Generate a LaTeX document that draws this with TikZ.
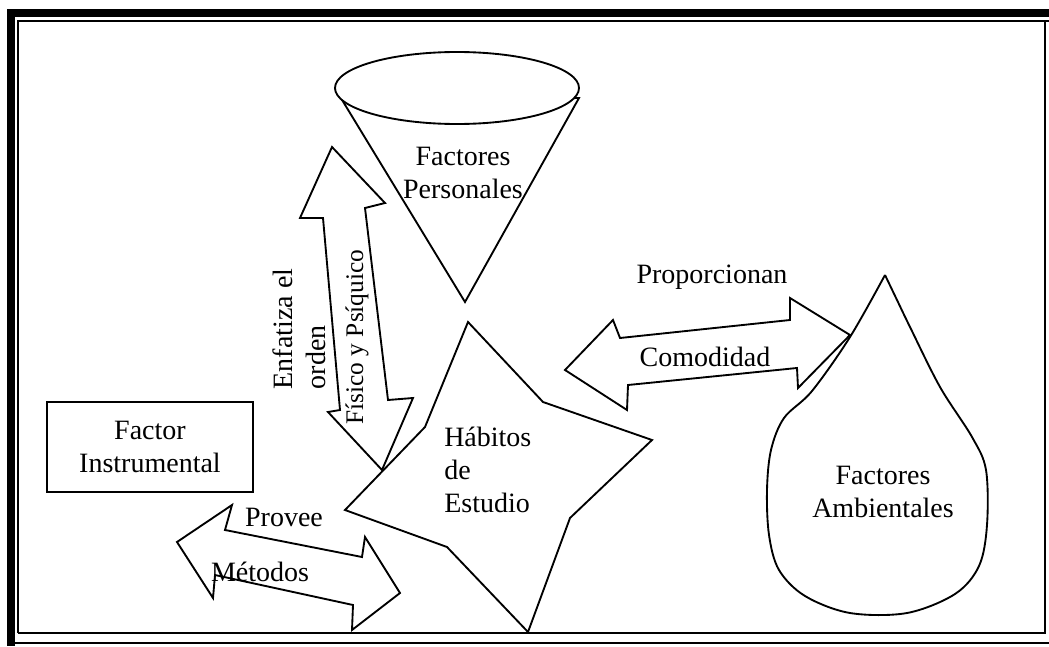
\documentclass[tikz,border=0pt]{standalone}
\usepackage{fontspec}
\setmainfont{Liberation Serif}
\usetikzlibrary{positioning}
\tikzset{
  outline/.style={draw=black,line width=1.4pt,fill=white,line join=miter},
  lbl/.style={font=\fontsize{21}{25}\selectfont,align=center,inner sep=0pt},
  sidelbl/.style={lbl,font=\fontsize{19}{25}\selectfont,rotate=90},
  instrbox/.style={outline,lbl,minimum width=154pt,minimum height=67.5pt},
  framebar/.style={fill=black},
  frameline/.style={draw=black,line width=1.6pt}
}
\begin{document}
\begin{tikzpicture}[x=0.75pt,y=-0.75pt]
\useasboundingbox (0,0) rectangle (1049,646);
% frame
\fill[framebar] (7,9) rectangle (1049,17);
\fill[framebar] (7,9) rectangle (15,646);
\draw[frameline] (18,633) -- (18,21) -- (1049,21);
\draw[frameline] (18,633) -- (1045,633) -- (1045,21);
\draw[frameline] (15,643) -- (1049,643);

% factores personales (cono)
\draw[outline] (336,90) -- (465,302) -- (579,98) -- cycle;
\draw[outline] (457,88) ellipse [x radius=122, y radius=36];
\node[lbl] (pers) at (463,173) {Factores\\Personales};

% flecha vertical
\draw[outline] (332,147) -- (300,218) -- (323,218) -- (340,410) -- (328,412)
  -- (382,470) -- (413,398) -- (388,400) -- (365,208) -- (385,203) -- cycle;
\node[sidelbl] (fisico) at (357,337) {Físico y Psíquico};
\node[lbl,rotate=90,align=left] (orden) at (299,329) {Enfatiza el\\orden};

% habitos de estudio (estrella)
\draw[outline] (468,322) -- (543,402) -- (652,440) -- (570,518) -- (528,632)
  -- (447,547) -- (345,510) -- (425,427) -- cycle;
\node[lbl,align=left,anchor=west] (habitos) at (444,470) {Hábitos\\de\\Estudio};

% flecha derecha
\draw[outline] (565,370) -- (613,320) -- (620,338) -- (790,320) -- (790,298)
  -- (850,335) -- (798,388) -- (797,368) -- (628,385) -- (627,410) -- cycle;
\node[lbl] (prop) at (712,277) {Proporcionan};
\node[lbl] (comod) at (705,357) {Comodidad};

% factores ambientales (gota)
\draw[outline] plot[smooth,tension=0.55] coordinates {(885,275) (850,337) (812,391)
  (784,418) (771,450) (767,490) (769,535) (779,570) (805,596) (850,613) (907,613)
  (955,594) (979,566) (987,525) (986,470) (972,437) (940,387) (910,327) (897,300) (885,275)};
\node[lbl] (amb) at (883,492) {Factores\\Ambientales};

% factor instrumental
\node[instrbox] (instr) at (150,447) {Factor\\Instrumental};

% flecha inferior
\draw[outline] (177,542) -- (232,505) -- (225,530) -- (362,557) -- (365,537)
  -- (400,593) -- (352,630) -- (353,605) -- (215,575) -- (213,598) -- cycle;
\node[lbl] (provee) at (284,517) {Provee};
\node[lbl] (metodos) at (260,572) {Métodos};
\end{tikzpicture}
\end{document}
